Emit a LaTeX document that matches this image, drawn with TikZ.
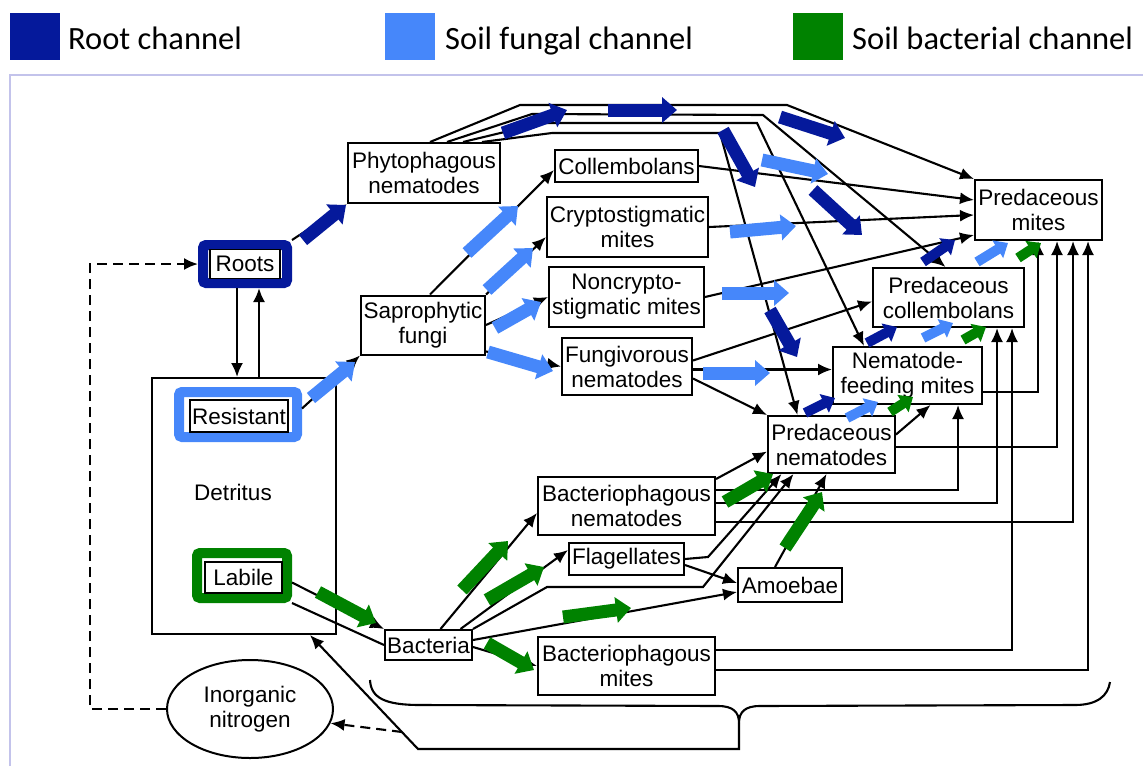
\documentclass[tikz,border=0pt]{standalone}
\usepackage{fontspec}
\setmainfont{Liberation Sans}
\newfontfamily\legendfont{Carlito}
\usetikzlibrary{arrows.meta, shapes.geometric}

\definecolor{rootblue}{RGB}{5,25,155}
\definecolor{fungblue}{RGB}{70,135,250}
\definecolor{bactgreen}{RGB}{0,130,0}
\definecolor{frameline}{RGB}{195,195,235}

\begin{document}
\begin{tikzpicture}[x=1pt, y=-1pt,
		box/.style={draw, line width=2pt, fill=white, align=center, inner sep=0pt, font=\fontsize{22.5}{25}\selectfont},
		hl/.style={draw=#1, line width=10pt, rounded corners=3pt, inner sep=0pt},
		ln/.style={line width=2.1pt},
		lnk/.style={line width=2.1pt, -{Latex[length=14pt, width=12pt]}},
		fat/.style={draw=#1, line width=13pt, -{Triangle[length=15pt, width=25pt]}},
		slim/.style={draw=#1, line width=10pt, -{Triangle[length=12pt, width=20pt]}},
		legend/.style={anchor=base west, inner sep=0pt, font=\legendfont\fontsize{32.5}{36}\selectfont}]
		\useasboundingbox (0,0) rectangle (1143,766);
		% legend
		\fill[rootblue](10, 13) rectangle (60, 60);
		\node[legend] (lroot) at (68, 49) {Root channel};
		\fill[fungblue](385, 13) rectangle (435, 60);
		\node[legend] (lfung) at (445, 49) {Soil fungal channel};
		\fill[bactgreen](793, 13) rectangle (843, 60);
		\node[legend] (lbact) at (852, 49) {Soil bacterial channel};
		\draw[frameline, line width=1.5pt](10, 766) |- (1143, 75);
		% detritus and inputs
		\node[draw, line width=2pt, minimum width=184pt, minimum height=256pt] (detr) at (244, 506) {};
		\node[font=\fontsize{22.5}{25}\selectfont] (detrlbl) at (233, 492) {Detritus};
		\node[hl=rootblue, minimum width=84pt, minimum height=38pt] (rootshl) at (245, 264) {};
		\node[box, line width=1.5pt, minimum width=70pt, minimum height=29pt] (roots) at (245, 264) {Roots};
		\node[hl=fungblue, minimum width=118pt, minimum height=45pt] (resisthl) at (238, 414.5) {};
		\node[box, line width=1.5pt, minimum width=98pt, minimum height=32pt] (resist) at (239, 416) {Resistant};
		\node[hl=bactgreen, minimum width=90pt, minimum height=45pt] (labilehl) at (242, 575.5) {};
		\node[box, line width=1.5pt, minimum width=77pt, minimum height=31pt] (labile) at (243.5, 577.5) {Labile};
		\node[draw, ellipse, line width=2pt, minimum width=166pt, minimum height=98pt, align=center, font=\fontsize{22.5}{25}\selectfont] (inorg) at (250, 709) {Inorganic\\nitrogen};
		% organisms
		\node[box, minimum width=152pt, minimum height=60pt] (phyto) at (424, 173) {Phytophagous\\nematodes};
		\node[box, minimum width=124pt, minimum height=59pt] (sapro) at (423, 325) {Saprophytic\\fungi};
		\node[box, minimum width=143pt, minimum height=32pt] (coll) at (626.5, 166) {Collembolans};
		\node[box, minimum width=161pt, minimum height=60pt] (crypto) at (627.5, 227) {Cryptostigmatic\\mites};
		\node[box, minimum width=155pt, minimum height=60pt] (noncr) at (626.5, 297) {Noncrypto-\\stigmatic mites};
		\node[box, minimum width=130pt, minimum height=57pt] (fungiv) at (627, 366.5) {Fungivorous\\nematodes};
		\node[box, minimum width=87pt, minimum height=30pt] (bact) at (428.5, 645) {Bacteria};
		\node[box, minimum width=177pt, minimum height=58pt] (bnem) at (626.5, 506) {Bacteriophagous\\nematodes};
		\node[box, minimum width=115pt, minimum height=32pt] (flag) at (626.5, 559) {Flagellates};
		\node[box, minimum width=104pt, minimum height=34pt] (amoeb) at (790, 585) {Amoebae};
		\node[box, minimum width=177pt, minimum height=58pt] (bmite) at (626.5, 666) {Bacteriophagous\\mites};
		\node[box, minimum width=127pt, minimum height=57pt] (prnem) at (831.5, 444.5) {Predaceous\\nematodes};
		\node[box, minimum width=149pt, minimum height=57pt] (nfm) at (907.5, 375.5) {Nematode-\\feeding mites};
		\node[box, minimum width=151pt, minimum height=59pt] (prcol) at (948.5, 297.5) {Predaceous\\collembolans};
		\node[box, minimum width=127pt, minimum height=60pt] (prmit) at (1038.5, 210) {Predaceous\\mites};

		% roots, detritus, nitrogen
		\draw[lnk](rootshl.north east)--(phyto.south west);
		\draw[lnk]([xshift=-8pt]rootshl.south)--([xshift=-8pt]rootshl.south |- detr.north);
		\draw[lnk]([xshift=14pt]rootshl.south |- detr.north)--([xshift=14pt]rootshl.south);
		\draw[lnk, dash pattern=on 10pt off 6pt](inorg.west)-|(90, 264)--(rootshl.west);
		\draw[lnk]([yshift=6pt]resisthl.east)--(sapro.south west);
		\draw[lnk]([yshift=-7pt]labilehl.east)--(bact.north west);
		\draw[ln](bact.west)--(labilehl.south east);
		\coordinate (tip) at (739, 723);
		\draw[lnk](tip)--(739, 749)--(418, 749)--(detr.south -| 310, 0);
		\draw[lnk, dash pattern=on 10pt off 6pt](402, 732)--(inorg.-10);
		\draw[ln](370, 680) .. controls (371, 698) and (385, 705) .. (420, 705)--(718, 706)
			.. controls (733, 706) and (739, 712) .. (tip)
			.. controls (739, 712) and (745, 706) .. (760, 706)--(1075, 705)
			.. controls (1097, 705) and (1108, 696) .. (1110, 682);

		% fungal side
		\draw[lnk]([xshift=7pt]sapro.north)--([yshift=-4pt]coll.west);
		\draw[lnk](sapro.north east)--([yshift=-10pt]crypto.west);
		\draw[lnk](sapro.east)--(noncr.west);
		\draw[lnk]([yshift=4pt]sapro.south east)--(fungiv.west);
		\draw[lnk]([xshift=6pt]phyto.north)--(520, 105)--(787, 105)--(prmit.north west);
		\draw[lnk]([xshift=23pt]phyto.north)--(532, 114)--(763, 115)--([xshift=-3pt]prcol.north);
		\draw[lnk]([xshift=39pt]phyto.north)--(542, 123)--(757, 123)--([xshift=32pt]nfm.north west);
		\draw[lnk]([xshift=58pt]phyto.north)--(552, 133)--(720, 133)--([xshift=-34pt]prnem.north);
		\draw[lnk](coll.east)--([yshift=10pt]prmit.west);
		\draw[lnk](crypto.east)--([yshift=-5pt]prmit.west);
		\draw[lnk](noncr.east)--([yshift=-25pt]prmit.west);
		\draw[lnk]([yshift=6pt]fungiv.east)--([yshift=-4pt]prcol.west);
		\draw[lnk]([yshift=-3pt]fungiv.east)--(nfm.west |- 0, 369.5);
		\draw[lnk]([yshift=-12pt]fungiv.east)--(prnem.north west);

		% bacterial side
		\draw[lnk]([xshift=12pt]bact.north)--([yshift=-7pt]bnem.west);
		\draw[lnk]([xshift=32pt]bact.north)--([yshift=9pt]flag.west);
		\draw[lnk](bact.north east)--(547, 587)--(703, 587)--([xshift=-38pt]prnem.south);
		\draw[lnk]([yshift=5pt]bact.east)--([yshift=-7pt]amoeb.west);
		\draw[lnk]([yshift=-2pt]bact.east)--(bmite.west);
		\draw[lnk](flag.east)--(708, 557)--([xshift=-50pt]prnem.south);
		\draw[lnk]([yshift=-6pt]flag.east)--([yshift=2pt]amoeb.west);
		\draw[lnk]([xshift=-15pt]amoeb.north)--([xshift=-5pt]prnem.south);
		\draw[lnk]([yshift=-3pt]bnem.north east)--([yshift=-7pt]prnem.west);
		\draw[lnk](bnem.east |- 0, 490)-|(958, 0 |- nfm.south);
		\draw[lnk](bnem.east |- 0, 503)-|(997, 0 |- prcol.south);
		\draw[lnk](bnem.east |- 0, 522)-|(1073, 0 |- prmit.south);
		\draw[lnk](bmite.east |- 0, 650)-|(1012, 0 |- prcol.south);
		\draw[lnk](bmite.east |- 0, 670)-|(1088, 0 |- prmit.south);

		% predators
		\draw[lnk]([yshift=10pt]prnem.east)--([xshift=23pt]nfm.south);
		\draw[lnk](prnem.east |- 0, 447)-|(1057, 0 |- prmit.south);
		\draw[lnk](nfm.east |- 0, 392)-|(1038, 0 |- prmit.south);

		% channel arrows
		\draw[fat=rootblue](303, 240)--(346, 205);
		\draw[fat=rootblue](503, 133)--(567, 110);
		\draw[fat=rootblue](608, 110)--(677, 110);
		\draw[fat=rootblue](780, 117)--(845, 138);
		\draw[fat=rootblue](723, 130)--(755, 187);
		\draw[fat=rootblue](813, 190)--(862, 235);
		\draw[fat=rootblue](770, 310)--(797, 357);
		\draw[slim=rootblue](923, 262)--(955, 240);
		\draw[slim=rootblue](867, 343)--(897, 327);
		\draw[slim=rootblue](805, 413)--(835, 398);
		\draw[fat=fungblue](311, 398)--(355, 362);
		\draw[fat=fungblue](467, 253)--(518, 206);
		\draw[fat=fungblue](487, 290)--(533, 248);
		\draw[fat=fungblue](495, 328)--(541, 302);
		\draw[fat=fungblue](488, 352)--(553, 371);
		\draw[fat=fungblue](762, 160)--(828, 174);
		\draw[fat=fungblue](730, 232)--(796, 226);
		\draw[fat=fungblue](722, 293)--(789, 293);
		\draw[fat=fungblue](703, 373)--(770, 373);
		\draw[slim=fungblue](977, 262)--(1008, 243);
		\draw[slim=fungblue](923, 338)--(953, 323);
		\draw[slim=fungblue](847, 418)--(878, 402);
		\draw[fat=bactgreen](318, 592)--(376, 623);
		\draw[fat=bactgreen](462, 590)--(508, 541);
		\draw[fat=bactgreen](487, 600)--(544, 567);
		\draw[fat=bactgreen](563, 617)--(631, 608);
		\draw[fat=bactgreen](487, 643)--(534, 670);
		\draw[fat=bactgreen](725, 502)--(773, 474);
		\draw[fat=bactgreen](785, 548)--(822, 492);
		\draw[slim=bactgreen](890, 412)--(913, 397);
		\draw[slim=bactgreen](963, 340)--(986, 327);
		\draw[slim=bactgreen](1018, 258)--(1041, 243);
	\end{tikzpicture}
\end{document}
